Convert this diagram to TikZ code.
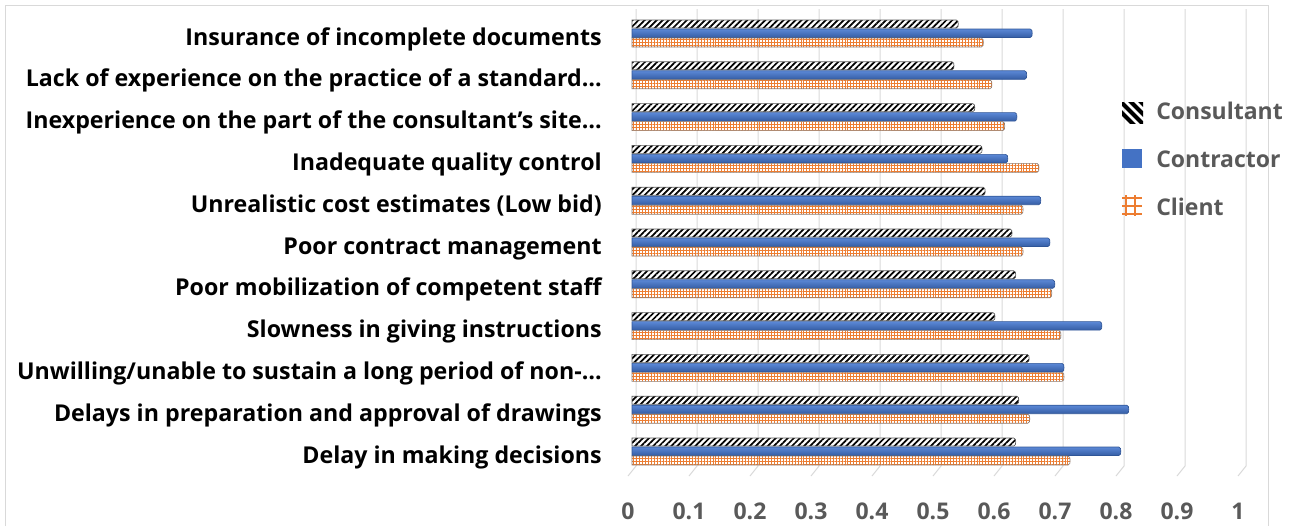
\documentclass[tikz,border=0pt]{standalone}
\usepackage{fontspec}
\setmainfont{Open Sans}
\usetikzlibrary{patterns.meta}
\definecolor{gridc}{HTML}{D9D9D9}
\definecolor{txtgray}{HTML}{595959}
\definecolor{blueA}{HTML}{4472C4}
\definecolor{blueL}{HTML}{5B88D6}
\definecolor{blueD}{HTML}{2F5597}
\definecolor{orangeA}{HTML}{ED7D31}
\definecolor{edgeC}{HTML}{8C7B70}
\tikzset{
 catlabel/.style={anchor=base east, inner sep=0pt, font=\fontsize{17.4}{20}\selectfont\bfseries, text=black},
 ticklabel/.style={anchor=base, inner sep=0pt, font=\fontsize{17.25}{20}\selectfont\bfseries, text=txtgray},
 legtext/.style={anchor=base west, inner sep=0pt, font=\fontsize{17.25}{20}\selectfont\bfseries, text=txtgray},
 gridline/.style={draw=gridc, line width=0.75pt},
 framec/.style={draw=gridc, line width=0.75pt},
 consbar/.style={pattern={Lines[angle=45,distance=3.2pt,line width=1.3pt]}, pattern color=black, draw=black!65, line width=0.5pt},
 contbar/.style={top color=blueL, bottom color=blueD!70!blueA, draw=blueD, line width=0.5pt},
 clientbar/.style={pattern={Hatch[angle=0,distance=2.2pt,line width=0.45pt]}, pattern color=orangeA, draw=edgeC, line width=0.5pt},
}
\begin{document}
\begin{tikzpicture}[x=0.75pt,y=-0.75pt]
\useasboundingbox (0,0) rectangle (1296,526);
% frame
\draw[framec] (5,526) -- (5,5) -- (1268,5) -- (1268,526);
% gridlines
\foreach \k in {0,...,10}{
  \pgfmathsetmacro\gx{636+61*\k}
  \draw[gridline] (\gx,9) -- (\gx,466) -- ({\gx-8},476);
}
% tick labels
\foreach \k/\t in {0/0,1/0.1,2/0.2,3/0.3,4/0.4,5/0.5,6/0.6,7/0.7,8/0.8,9/0.9,10/1}{
  \node[ticklabel] (tick\k) at ({628+61*\k},519) {\t};
}
% bars and category labels
\foreach \i/\a/\b/\c/\lab in {
 0/0.534/0.655/0.575/{Insurance of incomplete documents},
 1/0.527/0.646/0.589/{Lack of experience on the practice of a standard…},
 2/0.561/0.630/0.610/{Inexperience on the part of the consultant’s site…},
 3/0.573/0.615/0.666/{Inadequate quality control},
 4/0.578/0.669/0.640/{Unrealistic cost estimates (Low bid)},
 5/0.622/0.684/0.640/{Poor contract management},
 6/0.628/0.692/0.687/{Poor mobilization of competent staff},
 7/0.594/0.769/0.702/{Slowness in giving instructions},
 8/0.650/0.707/0.707/{Unwilling/unable to sustain a long period of non-…},
 9/0.633/0.813/0.651/{Delays in preparation and approval of drawings},
 10/0.628/0.800/0.717/{Delay in making decisions}}{
  \pgfmathsetmacro\ty{20+41.8*\i}
  \pgfmathsetmacro\tb{29+41.8*\i}
  \pgfmathsetmacro\tc{38+41.8*\i}
  \pgfmathsetmacro\ea{632+611*\a}
  \pgfmathsetmacro\eb{632+611*\b}
  \pgfmathsetmacro\ec{632+611*\c}
  \path[consbar] (632,\ty) -- ({\ea-2},\ty) to[out=0,in=90] (\ea,{\ty+4}) to[out=-90,in=0] ({\ea-2},{\ty+8}) -- (632,{\ty+8}) -- cycle;
  \path[contbar] (632,\tb) -- ({\eb-2},\tb) to[out=0,in=90] (\eb,{\tb+4.25}) to[out=-90,in=0] ({\eb-2},{\tb+8.5}) -- (632,{\tb+8.5}) -- cycle;
  \path[clientbar] (632,\tc) -- ({\ec-2},\tc) to[out=0,in=90] (\ec,{\tc+4.5}) to[out=-90,in=0] ({\ec-2},{\tc+9}) -- (632,{\tc+9}) -- cycle;
  \node[catlabel] (cat\i) at (602,{45+41.8*\i}) {\lab};
}
% legend
\begin{scope}
  \clip (1122,102) rectangle (1143,123);
  \foreach \o in {-11,-1,9,19}{
    \draw[black, line width=3pt] ({1122+\o-4},98) -- ({1143+\o+4},127);
  }
\end{scope}
\fill[blueA] (1122,149) rectangle (1142,168);
\foreach \xx in {1126,1135}{ \draw[orangeA, line width=1.5pt] (\xx,195) -- (\xx,216); }
\foreach \yy in {198,206,214}{ \draw[orangeA, line width=1.5pt] (1122,\yy) -- (1142,\yy); }
\node[legtext] (legcons) at (1156,119) {Consultant};
\node[legtext] (legcont) at (1156,167) {Contractor};
\node[legtext] (legcli) at (1156,215) {Client};
\end{tikzpicture}
\end{document}
